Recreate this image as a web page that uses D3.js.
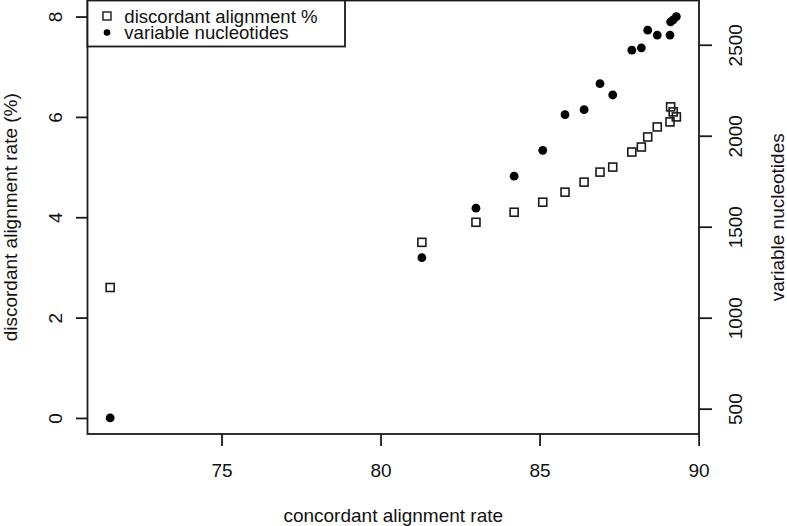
<!DOCTYPE html>
<html>
<head>
<meta charset="utf-8">
<script src="https://cdn.jsdelivr.net/npm/d3@7"></script>
<style>
  html, body { margin: 0; padding: 0; background: #fff; }
  svg { display: block; }
  text { font-family: "Liberation Sans", Arial, Helvetica, sans-serif; fill: #111; }
</style>
</head>
<body>
<svg id="chart" width="787" height="526"></svg>
<script>
// ---- data ----
const concordant = [71.5, 81.3, 83.0, 84.2, 85.1, 85.8, 86.4, 86.9, 87.3, 87.9, 88.2, 88.4, 88.7, 89.1, 89.12, 89.2, 89.3];
const discordant = [2.6, 3.5, 3.9, 4.1, 4.3, 4.5, 4.7, 4.9, 5.0, 5.3, 5.4, 5.6, 5.8, 5.9, 6.2, 6.1, 6.0];
const variableNuc = [449, 1330, 1602, 1778, 1920, 2116, 2143, 2286, 2224, 2470, 2483, 2580, 2553, 2553, 2626, 2637, 2655];
const xTicks = [75, 80, 85, 90];
const leftTicks = [0, 2, 4, 6, 8];
const rightTicks = [500, 1000, 1500, 2000, 2500];
const leftLimits = [0, 8];
const legendLabels = ["discordant alignment %", "variable nucleotides"];

// ---- layout ----
const plot = { left: 87.5, right: 699, top: 0.5, bottom: 434 };
const ink = "#1a1a1a";
const fontSize = 19;
const lw = 1.8;

// R-style 4% range extension
function extend(lo, hi) { const d = (hi - lo) * 0.04; return [lo - d, hi + d]; }

const x = d3.scaleLinear().domain(extend(d3.min(concordant), d3.max(concordant))).range([plot.left, plot.right]);
const yL = d3.scaleLinear().domain(extend(leftLimits[0], leftLimits[1])).range([plot.bottom, plot.top]);
const yR = d3.scaleLinear().domain(extend(d3.min(variableNuc), d3.max(variableNuc))).range([plot.bottom, plot.top]);

const svg = d3.select("#chart");

// ---- axes ----
const gx = svg.append("g").attr("transform", `translate(0,${plot.bottom})`)
  .call(d3.axisBottom(x).tickValues(xTicks).tickSize(12).tickFormat(d3.format("d")));
gx.select(".domain").remove();
gx.selectAll(".tick line").attr("stroke", ink).attr("stroke-width", lw);
gx.selectAll(".tick text").attr("y", 0).attr("dy", 0).attr("transform", "translate(0,42.7)")
  .style("font-size", fontSize + "px").attr("fill", ink);

const gl = svg.append("g").attr("transform", `translate(${plot.left},0)`)
  .call(d3.axisLeft(yL).tickValues(leftTicks).tickSize(11.5).tickFormat(d3.format("d")));
gl.select(".domain").remove();
gl.selectAll(".tick line").attr("stroke", ink).attr("stroke-width", lw);
gl.selectAll(".tick text").attr("x", 0).attr("y", 0).attr("dy", 0)
  .attr("text-anchor", "middle")
  .attr("transform", "translate(-25.8,0) rotate(-90)")
  .style("font-size", fontSize + "px").attr("fill", ink);

const gr = svg.append("g").attr("transform", `translate(${plot.right},0)`)
  .call(d3.axisRight(yR).tickValues(rightTicks).tickSize(13).tickFormat(d3.format("d")));
gr.select(".domain").remove();
gr.selectAll(".tick line").attr("stroke", ink).attr("stroke-width", lw);
gr.selectAll(".tick text").attr("x", 0).attr("y", 0).attr("dy", 0)
  .attr("text-anchor", "middle")
  .attr("transform", "translate(42.7,0) rotate(-90)")
  .style("font-size", fontSize + "px").attr("fill", ink);

// ---- frame ----
svg.append("rect")
  .attr("x", plot.left).attr("y", plot.top)
  .attr("width", plot.right - plot.left).attr("height", plot.bottom - plot.top)
  .attr("fill", "none").attr("stroke", ink).attr("stroke-width", lw);

// ---- axis titles ----
const midX = (plot.left + plot.right) / 2;
const midY = (plot.top + plot.bottom) / 2;
svg.append("text").attr("x", midX).attr("y", 521.5).attr("text-anchor", "middle")
  .style("font-size", fontSize + "px").text("concordant alignment rate");
svg.append("text").attr("transform", `translate(16.5,${midY}) rotate(-90)`).attr("text-anchor", "middle")
  .style("font-size", fontSize + "px").text("discordant alignment rate (%)");
svg.append("text").attr("transform", `translate(784,${midY}) rotate(-90)`).attr("text-anchor", "middle")
  .style("font-size", fontSize + "px").text("variable nucleotides");

// ---- points ----
const sq = 8;
svg.append("g").selectAll("rect").data(concordant).join("rect")
  .attr("x", (d) => x(d) - sq / 2)
  .attr("y", (d, i) => yL(discordant[i]) - sq / 2)
  .attr("width", sq).attr("height", sq)
  .attr("fill", "none").attr("stroke", ink).attr("stroke-width", 1.6);

svg.append("g").selectAll("circle").data(concordant).join("circle")
  .attr("cx", (d) => x(d))
  .attr("cy", (d, i) => yR(variableNuc[i]))
  .attr("r", 4.4).attr("fill", "#000");

// ---- legend ----
const lg = svg.append("g");
lg.append("rect").attr("x", plot.left).attr("y", plot.top)
  .attr("width", 345 - plot.left).attr("height", 46.5 - plot.top)
  .attr("fill", "#fff").attr("stroke", ink).attr("stroke-width", lw);
lg.append("rect").attr("x", 107 - sq / 2).attr("y", 16 - sq / 2).attr("width", sq).attr("height", sq)
  .attr("fill", "none").attr("stroke", ink).attr("stroke-width", 1.4);
lg.append("circle").attr("cx", 107).attr("cy", 32.5).attr("r", 3.3).attr("fill", "#000");
lg.selectAll("text.lab").data(legendLabels).join("text").attr("class", "lab")
  .attr("x", 124.3).attr("y", (d, i) => 22.5 + i * 16.3)
  .style("font-size", "18.6px").text((d) => d);
</script>
</body>
</html>
